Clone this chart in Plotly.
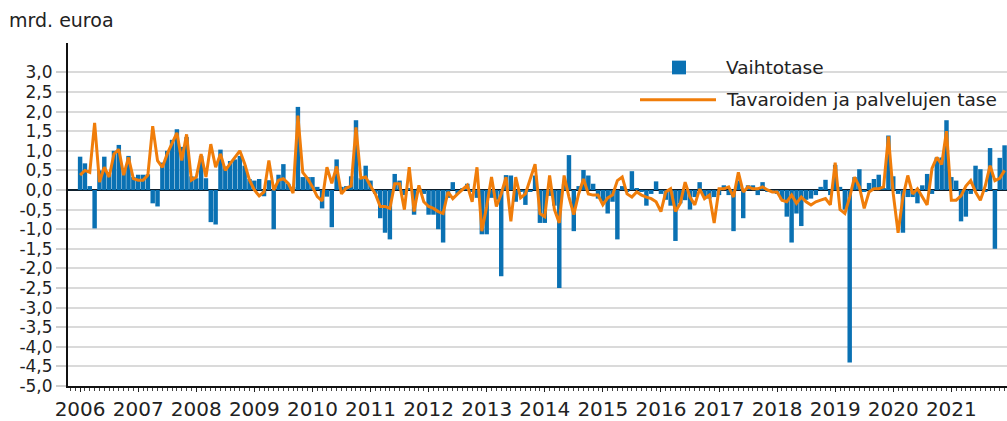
import plotly.graph_objects as go

years = list(range(2006, 2022))
months = [f"{y}-{m:02d}" for y in years for m in range(1, 13)]

# Vaihtotase (current account), mrd. euroa, monthly 2006-2021
vaihtotase = [
    0.85, 0.68, 0.10, -0.98, 0.50, 0.85, 0.40, 1.00, 1.15, 0.50, 0.87, 0.33,   # 2006
    0.39, 0.39, 0.40, -0.34, -0.42, 0.70, 1.00, 1.28, 1.55, 1.10, 1.35, 0.35,  # 2007
    0.30, 0.87, 0.30, -0.82, -0.88, 1.03, 0.60, 0.74, 0.78, 0.87, 0.62, 0.28,  # 2008
    0.24, 0.28, -0.16, 0.25, -1.00, 0.39, 0.66, 0.16, 0.08, 2.12, 0.33, 0.33,  # 2009
    0.33, 0.08, -0.47, -0.17, -0.95, 0.78, 0.08, 0.10, 0.35, 1.78, 0.30, 0.62, # 2010
    0.24, -0.10, -0.72, -1.09, -1.26, 0.41, 0.24, -0.13, 0.05, -0.63, 0.05, -0.10,  # 2011
    -0.63, -0.63, -1.00, -1.34, -0.20, 0.20, -0.10, 0.05, 0.16, -0.05, -0.20, -1.13,  # 2012
    -1.13, -0.20, -0.25, -2.20, 0.38, 0.37, -0.30, -0.05, -0.38, -0.05, 0.37, -0.84,  # 2013
    -0.84, -0.15, -0.40, -2.50, 0.15, 0.89, -1.05, 0.10, 0.51, 0.37, 0.16, -0.22,   # 2014
    -0.30, -0.60, -0.30, -1.26, 0.10, -0.05, 0.48, 0.05, -0.05, -0.40, -0.10, 0.22, # 2015
    -0.10, -0.25, -0.40, -1.30, -0.34, -0.26, -0.50, -0.18, 0.20, -0.18, -0.22, -0.18,  # 2016
    -0.13, 0.12, -0.13, -1.05, 0.24, -0.72, 0.12, 0.12, -0.13, 0.20, -0.05, -0.05,  # 2017
    -0.10, -0.25, -0.68, -1.34, -0.60, -0.92, -0.25, -0.22, -0.13, 0.08, 0.26, -0.13,  # 2018
    0.64, 0.08, -0.50, -4.40, 0.33, 0.53, -0.05, 0.18, 0.28, 0.39, 0.05, 1.39,  # 2019
    0.35, -0.10, -1.09, -0.18, -0.18, -0.34, 0.12, 0.41, -0.10, 0.83, 0.83, 1.78,  # 2020
    0.33, 0.24, -0.80, -0.68, -0.10, 0.62, 0.53, -0.05, 1.07, -1.50, 0.82, 1.14,  # 2021
]

# Tavaroiden ja palvelujen tase (goods and services balance)
tavarat_palvelut = [
    0.38, 0.50, 0.45, 1.71, 0.20, 0.58, 0.33, 0.92, 1.04, 0.38, 0.83, 0.29,   # 2006
    0.25, 0.25, 0.38, 1.63, 0.75, 0.58, 0.92, 1.17, 1.46, 0.75, 1.42, 0.25,   # 2007
    0.33, 0.92, 0.33, 1.17, 0.58, 0.92, 0.50, 0.67, 0.83, 1.00, 0.67, 0.25,   # 2008
    0.00, -0.15, -0.05, 0.75, 0.00, 0.25, 0.29, 0.17, -0.08, 1.90, 0.45, 0.29, # 2009
    0.08, -0.17, -0.28, 0.58, 0.17, 0.60, -0.10, 0.05, 0.10, 1.60, 0.30, 0.33, # 2010
    0.10, -0.10, -0.42, -0.42, -0.47, 0.16, 0.16, -0.50, 0.58, -0.55, 0.12, -0.30,  # 2011
    -0.42, -0.47, -0.55, -0.60, -0.05, -0.22, -0.10, 0.00, 0.12, -0.30, 0.58, -1.05,  # 2012
    -0.42, 0.33, -0.42, -0.10, 0.33, -0.80, 0.33, -0.20, -0.10, 0.28, 0.66, -0.60,   # 2013
    -0.68, 0.37, -0.50, -0.84, 0.37, -0.18, -0.63, -0.10, 0.28, -0.10, -0.13, -0.13, # 2014
    -0.38, -0.20, -0.13, 0.24, 0.33, -0.10, -0.18, -0.05, -0.13, -0.18, -0.22, -0.30, # 2015
    -0.55, -0.05, 0.03, -0.55, -0.34, 0.20, -0.18, -0.38, 0.03, -0.22, -0.13, -0.84,  # 2016
    0.03, 0.03, 0.08, -0.18, 0.45, -0.05, 0.08, 0.03, 0.03, 0.08, 0.00, -0.05,   # 2017
    -0.05, -0.26, -0.30, -0.13, -0.34, -0.18, -0.30, -0.38, -0.30, -0.26, -0.22, -0.38,  # 2018
    0.70, -0.50, -0.60, -0.18, 0.33, 0.08, -0.47, -0.05, 0.03, 0.03, 0.08, 1.37,  # 2019
    -0.10, -1.09, -0.18, 0.37, -0.10, 0.03, -0.18, -0.38, 0.55, 0.83, 0.65, 1.50, # 2020
    -0.26, -0.26, -0.15, 0.10, 0.24, -0.05, -0.26, 0.10, 0.62, 0.24, 0.30, 0.50,  # 2021
]

y_tick_vals = [3.0, 2.5, 2.0, 1.5, 1.0, 0.5, 0.0, -0.5, -1.0, -1.5, -2.0,
               -2.5, -3.0, -3.5, -4.0, -4.5, -5.0]
y_tick_text = ["3,0", "2,5", "2,0", "1,5", "1,0", "0,5", "0,0", "-0,5", "-1,0",
               "-1,5", "-2,0", "-2,5", "-3,0", "-3,5", "-4,0", "-4,5", "-5,0"]

BLUE = "#0a71b3"
ORANGE = "#f07d0a"
FONT = "DejaVu Sans, Verdana, sans-serif"
TEXT = "#222222"

x = list(range(len(months)))
year_pos = [x[months.index(f"{y}-01")] for y in years]

fig = go.Figure()
fig.add_trace(go.Bar(x=x, y=vaihtotase, name="Vaihtotase",
                     marker=dict(color=BLUE, line=dict(width=0))))
fig.add_trace(go.Scatter(x=x, y=tavarat_palvelut, mode="lines",
                         name="Tavaroiden ja palvelujen tase",
                         line=dict(color=ORANGE, width=3)))

W, H = 1007, 421
L, R, T, B = 68, 0, 43, 28
pw, ph = W - L - R, H - T - B

def px(xp):
    return (xp - L) / pw

def py(yp):
    return (H - B - yp) / ph

fig.update_layout(
    width=W, height=H,
    margin=dict(l=L, r=R, t=T, b=B),
    paper_bgcolor="white", plot_bgcolor="white",
    showlegend=False,
    bargap=0.08,
    font=dict(family=FONT, color=TEXT),
    xaxis=dict(
        range=[-2.5, 191.5],
        tickmode="array", tickvals=year_pos, ticktext=[str(y) for y in years],
        ticks="outside", ticklen=4, tickcolor="#222", tickwidth=1,
        showline=True, linecolor="#111", linewidth=2,
        showgrid=False, zeroline=False,
        tickfont=dict(size=20, color=TEXT, family=FONT),
        minor=dict(tickmode="linear", tick0=0, dtick=1, ticks="outside",
                   ticklen=3, tickcolor="#444", showgrid=False),
    ),
    yaxis=dict(
        range=[-5.0, 3.75],
        tickmode="array", tickvals=y_tick_vals, ticktext=y_tick_text,
        ticks="outside", ticklen=10, tickcolor="#cfcfcf", tickwidth=2,
        showgrid=True, gridcolor="#dadada", gridwidth=2,
        zeroline=True, zerolinecolor="#0e1f2c", zerolinewidth=2,
        showline=True, linecolor="#111", linewidth=2,
        tickfont=dict(size=17, color=TEXT, family=FONT),
    ),
)

shapes = [
    dict(type="rect", xref="paper", yref="paper", layer="between",
         x0=px(636), x1=px(1010), y0=py(115), y1=py(52),
         fillcolor="white", line=dict(width=0)),
    dict(type="rect", xref="paper", yref="paper", layer="above",
         x0=px(672), x1=px(686), y0=py(75), y1=py(61),
         fillcolor=BLUE, line=dict(width=0)),
    dict(type="line", xref="paper", yref="paper", layer="above",
         x0=px(640), x1=px(716), y0=py(101), y1=py(101),
         line=dict(color=ORANGE, width=3)),
]
annotations = [
    dict(text="mrd. euroa", xref="paper", yref="paper", x=px(7), y=py(20),
         xanchor="left", yanchor="middle", showarrow=False,
         font=dict(size=19, color=TEXT, family=FONT)),
    dict(text="Vaihtotase", xref="paper", yref="paper", x=px(724), y=py(68),
         xanchor="left", yanchor="middle", showarrow=False,
         font=dict(size=18.5, color=TEXT, family=FONT)),
    dict(text="Tavaroiden ja palvelujen tase", xref="paper", yref="paper",
         x=px(724), y=py(101), xanchor="left", yanchor="middle", showarrow=False,
         font=dict(size=18.5, color=TEXT, family=FONT)),
]
fig.update_layout(shapes=shapes, annotations=annotations)

fig.write_html("out.html", config={"displayModeBar": False},
               post_script="document.body.style.margin='0';document.body.style.overflow='hidden';")
